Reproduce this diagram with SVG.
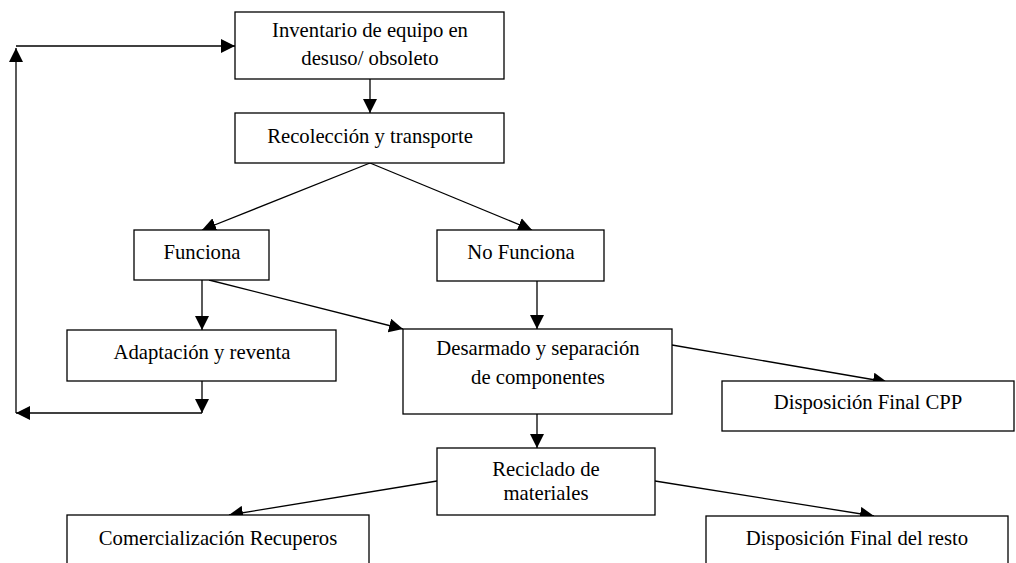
<svg xmlns="http://www.w3.org/2000/svg" width="1016" height="563" viewBox="0 0 1016 563">
<style>
.box{fill:#fff;stroke:#000;stroke-width:1.3}
.t{font-family:"Liberation Serif","Times New Roman",serif;font-size:20.7px;fill:#000;text-anchor:middle}
.c{fill:none;stroke:#000;stroke-width:1.3}
</style>
<defs>
<marker id="ah" markerUnits="userSpaceOnUse" markerWidth="14" markerHeight="14" refX="14" refY="7" orient="auto" viewBox="0 0 14 14">
<path d="M0,0 L14,7 L0,14 z" fill="#000"/>
</marker>
</defs>
<rect width="1016" height="563" fill="#fff"/>
<g id="connectors">
<path class="c" d="M370,79 V113" marker-end="url(#ah)"/>
<path class="c" d="M370,163 L202,230" marker-end="url(#ah)"/>
<path class="c" d="M370,163 L532,230" marker-end="url(#ah)"/>
<path class="c" d="M202,280 V330" marker-end="url(#ah)"/>
<path class="c" d="M209,280 L403,329" marker-end="url(#ah)"/>
<path class="c" d="M537,281 V329" marker-end="url(#ah)"/>
<path class="c" d="M202,381 V413" marker-end="url(#ah)"/>
<path class="c" d="M202,413 H16" marker-end="url(#ah)"/>
<path class="c" d="M16,413 V48" marker-end="url(#ah)"/>
<path class="c" d="M16,46 H235" marker-end="url(#ah)"/>
<path class="c" d="M672,345 L887,382" marker-end="url(#ah)"/>
<path class="c" d="M537,414 V448" marker-end="url(#ah)"/>
<path class="c" d="M437,481 L229,515" marker-end="url(#ah)"/>
<path class="c" d="M655,481 L874,516" marker-end="url(#ah)"/>
</g>
<g id="n1"><rect class="box" x="235" y="12" width="269" height="67"/><text class="t" x="370" y="37">Inventario de equipo en</text><text class="t" x="370" y="65">desuso/ obsoleto</text></g>
<g id="n2"><rect class="box" x="235" y="113" width="269" height="50"/><text class="t" x="370" y="143">Recolección y transporte</text></g>
<g id="n3"><rect class="box" x="134" y="230" width="135" height="50"/><text class="t" x="202" y="259">Funciona</text></g>
<g id="n4"><rect class="box" x="437" y="230" width="167" height="51"/><text class="t" x="521" y="259">No Funciona</text></g>
<g id="n5"><rect class="box" x="67" y="330" width="269" height="51"/><text class="t" x="202" y="359">Adaptación y reventa</text></g>
<g id="n6"><rect class="box" x="403" y="329" width="269" height="85"/><text class="t" x="538" y="355">Desarmado y separación</text><text class="t" x="538" y="384">de componentes</text></g>
<g id="n7"><rect class="box" x="722" y="381" width="292" height="50"/><text class="t" x="868" y="409">Disposición Final CPP</text></g>
<g id="n8"><rect class="box" x="437" y="448" width="218" height="67"/><text class="t" x="546" y="476">Reciclado de</text><text class="t" x="546" y="500">materiales</text></g>
<g id="n9"><rect class="box" x="67" y="515" width="302" height="60"/><text class="t" x="218" y="545">Comercialización Recuperos</text></g>
<g id="n10"><rect class="box" x="706" y="516" width="302" height="60"/><text class="t" x="857" y="545">Disposición Final del resto</text></g>
</svg>
